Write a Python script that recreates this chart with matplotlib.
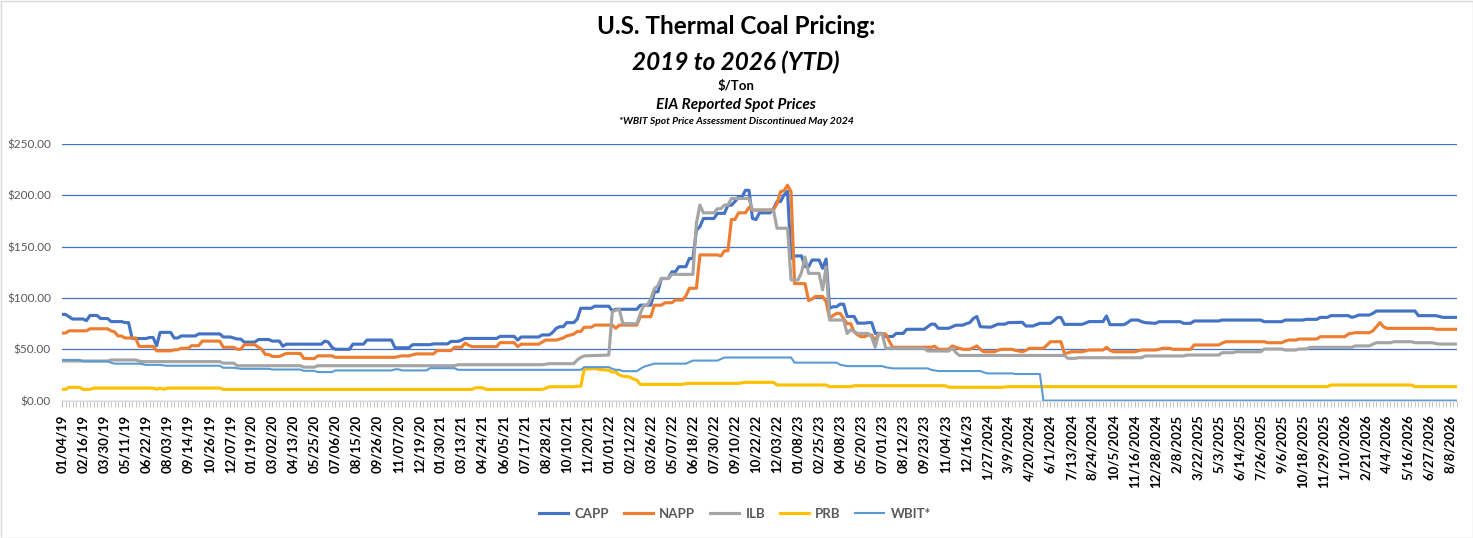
import matplotlib
matplotlib.use("Agg")
import matplotlib.pyplot as plt
from matplotlib.ticker import MultipleLocator, FixedLocator, StrMethodFormatter
from matplotlib.patches import Rectangle

plt.rcParams["font.family"] = ["Lato", "DejaVu Sans"]

# weekly category labels (every 6th week is labelled)
tick_labels = [
    "01/04/19", "02/16/19", "03/30/19", "05/11/19", "06/22/19", "08/03/19",
    "09/14/19", "10/26/19", "12/07/19", "01/19/20", "03/02/20", "04/13/20",
    "05/25/20", "07/06/20", "08/15/20", "09/26/20", "11/07/20", "12/19/20",
    "01/30/21", "03/13/21", "04/24/21", "06/05/21", "07/17/21", "08/28/21",
    "10/10/21", "11/20/21", "01/01/22", "02/12/22", "03/26/22", "05/07/22",
    "06/18/22", "07/30/22", "09/10/22", "10/22/22", "12/03/22", "01/08/23",
    "02/25/23", "04/08/23", "05/20/23", "07/01/23", "08/12/23", "09/23/23",
    "11/04/23", "12/16/23", "1/27/2024", "3/9/2024", "4/20/2024", "6/1/2024",
    "7/13/2024", "8/24/2024", "10/5/2024", "11/16/2024", "12/28/2024",
    "2/8/2025", "3/22/2025", "5/3/2025", "6/14/2025", "7/26/2025", "9/6/2025",
    "10/18/2025", "11/29/2025", "1/10/2026", "2/21/2026", "4/4/2026",
    "5/16/2026", "6/27/2026", "8/8/2026",
]
n_weeks = 399

# (week index, $/ton)
capp = [(0,84),(1,84),(3,79.5),(6,79.5),(7,78),(8,83),(10,83),(11,80),(13,80),(14,77),(17,77),
        (18,76),(19,76),(20,60.5),(24,60.5),(25,61.5),(26,61.5),(27,53.5),(28,66.5),(31,66.5),
        (32,61),(33,61),(34,63),(38,63),(39,65),(45,65),(46,62),(48,62),(50,60),(51,60),(52,57),
        (55,57),(56,59.5),(59,59.5),(60,58),(62,58),(63,53),(64,55),(74,55),(75,58),(76,57),
        (77,52),(78,50),(82,50),(83,55),(86,55),(87,59),(94,59),(95,51.5),(99,51.5),(100,54.5),
        (105,54.5),(106,55.3),(110,55.3),(111,57.7),(113,57.7),(114,59),(115,60.6),(124,60.6),
        (125,62.6),(129,62.6),(130,59),(131,62),(136,62),(137,64),(139,64),(140,66.5),(141,70.5),
        (142,72),(143,72),(144,76),(146,76),(147,79.5),(148,90),(151,90),(152,92),(156,92),
        (157,87.5),(158,89),(164,89),(165,93),(168,93),(169,106),(170,106),(171,119),(173,119),
        (174,125.5),(175,125.5),(176,130.5),(178,130.5),(179,138.5),(180,138.5),(181,166),
        (182,169.5),(183,177.5),(186,177.5),(187,182.5),(189,182.5),(190,190.5),(191,190.5),
        (192,194),(193,198.5),(194,198.5),(195,205),(196,205),(197,177.5),(198,176.5),(199,183),
        (202,183),(203,187),(204,194),(205,194),(206,200.5),(207,204),(208,138.5),(209,141),
        (211,141),(212,130.5),(213,130.5),(214,137),(216,137),(217,129),(218,138),(219,90),
        (220,91.5),(221,91.5),(222,94),(223,94),(224,82),(226,82),(227,75.5),(229,75.5),(230,76),
        (231,76),(232,65.5),(234,65.5),(235,62.5),(237,62.5),(238,65.5),(240,65.5),(241,69.5),
        (246,69.5),(247,72),(248,74.5),(249,74.5),(250,70.5),(253,70.5),(254,72),(255,73.5),
        (257,73.5),(258,75),(259,76),(260,80),(261,82),(262,72),(265,71.5),(266,73),(267,74.5),
        (269,74.5),(270,76),(274,76.3),(275,72.7),(277,72.7),(278,74),(279,75.3),(282,75.3),
        (283,78),(284,81),(285,81),(286,74.3),(291,74.3),(292,75.5),(293,77),(297,77),(298,82.5),
        (299,74),(303,74),(304,76),(305,78.5),(307,78.5),(308,77),(309,76),(312,75.3),(313,76.9),
        (319,76.9),(320,75.3),(322,75.3),(323,77.6),(330,77.6),(331,78.5),(342,78.5),(343,76.9),
        (348,76.9),(349,78.5),(354,78.5),(355,79.2),(358,79.2),(359,81.1),(361,81.1),(362,82.8),
        (367,82.8),(368,81.1),(369,82),(370,83.4),(373,83.4),(374,85),(375,87.3),(386,87.3),
        (387,82.8),(392,82.8),(393,82),(394,81.1),(398,81.1)]

napp = [(0,65.8),(1,65.8),(2,68),(7,68),(8,70),(13,70),(14,68),(15,67),(16,63),(17,63),(18,61),
        (21,61),(22,52.8),(26,52.8),(27,48.5),(31,48.5),(32,49.5),(33,49.5),(34,51),(36,51),
        (37,53.5),(39,53.5),(40,58),(45,58),(46,52),(49,52),(50,50),(51,50),(52,54.5),(55,54.5),
        (56,52),(57,50),(58,45),(59,45),(60,43),(62,43),(63,44.5),(64,46),(68,46),(69,41),(72,41),
        (73,43.6),(77,43.6),(78,42.2),(95,42.2),(96,43),(97,43.6),(99,43.6),(100,44.5),(101,45.5),
        (106,45.5),(107,48.8),(111,48.8),(112,52),(114,52),(115,56),(116,54),(117,52.6),(124,52.6),
        (125,56.5),(129,56.5),(130,52.6),(131,55),(136,55),(137,57),(138,59),(141,59),(142,60),
        (143,61),(144,63),(146,64.8),(147,67.4),(148,67.4),(149,71.5),(151,71.5),(152,73.6),
        (157,73.6),(158,70.5),(159,73.6),(164,73.6),(165,81.8),(168,81.8),(169,93),(171,93),
        (172,95.4),(174,95.4),(175,98),(177,98),(178,102),(179,109.5),(181,109.5),(182,142),
        (187,142),(188,141),(189,146),(190,146),(191,176.5),(192,176.5),(193,183),(195,183),
        (196,188.3),(197,185.7),(203,185.7),(204,192),(205,203.6),(206,204.6),(207,210),
        (208,203.6),(209,114),(212,114),(213,97.5),(214,99),(215,101.5),(217,101.5),(218,96.4),
        (219,80),(220,83),(221,85),(222,85),(223,80),(224,75),(225,75),(226,67),(227,64),
        (228,62.3),(229,62.3),(230,63.9),(231,63.9),(232,58.4),(233,65),(235,65),(236,58),
        (237,52),(248,52),(249,53),(250,50),(253,50),(254,53.3),(255,52),(256,51),(257,50),
        (259,50),(260,51.5),(261,53.3),(262,50),(263,47.6),(266,47.6),(267,49),(268,50),(271,50),
        (272,49),(274,47.6),(275,49),(276,51),(280,51),(281,54),(282,57.4),(285,57.4),(286,46),
        (287,46.5),(288,47.6),(291,47.6),(292,48.5),(293,49.3),(297,49.3),(298,51.9),(299,49),
        (300,47.6),(306,47.6),(307,48.5),(308,49.3),(312,49.3),(313,50),(314,51),(316,51),
        (317,50),(322,50),(323,54.2),(330,54.2),(331,56),(332,57.4),(343,57.4),(344,56.4),
        (348,56.4),(349,58),(350,59),(352,59),(353,60),(358,60),(359,62.3),(366,62.3),(367,64.9),
        (368,65.5),(369,66.2),(373,66.2),(374,68),(376,76),(377,72),(378,70.4),(391,70.4),
        (392,69.5),(398,69.5)]

ilb = [(0,38.6),(13,38.6),(14,39.6),(21,39.6),(22,38.5),(23,38),(45,38),(46,36.5),(49,36.5),
       (50,34),(68,34),(69,32.6),(72,32.6),(73,34),(112,34),(113,35),(137,35),(138,35.5),
       (139,36),(146,36),(147,39.6),(148,42),(149,43.6),(156,44.4),(157,86.6),(158,88),(159,89),
       (160,75),(164,75),(165,85),(166,93),(167,93),(168,99.5),(169,109),(170,112),(171,119),
       (173,119),(174,123),(180,123),(181,173),(182,190.6),(183,183),(186,183),(187,187),
       (188,187),(189,190.6),(190,190.6),(191,197),(196,197),(197,185.7),(203,185.7),(204,168),
       (207,168),(208,117.6),(210,117.6),(211,125),(212,140),(213,124),(216,124),(217,107.8),
       (218,130.5),(219,78.5),(223,78.5),(224,65.4),(225,69),(227,65.5),(230,65.5),(231,62),
       (232,52),(233,65),(234,65),(235,51),(246,51),(247,48.3),(253,48.3),(254,51),(255,47),
       (256,44),(286,44),(287,41.2),(289,41.2),(290,41.8),(308,41.8),(309,43.5),(320,43.5),
       (321,44.4),(330,44.4),(331,46.7),(334,46.7),(335,47.6),(342,47.6),(343,50.3),(348,50.3),
       (349,49.3),(352,49.3),(353,50.3),(355,50.3),(356,51.9),(368,51.9),(369,53.3),(373,53.3),
       (374,55),(375,56.4),(379,56.4),(380,57.4),(385,57.4),(386,56.4),(391,56.4),(392,55.5),
       (393,55.1),(398,55.1)]

prb = [(0,10.9),(1,10.9),(2,12.9),(5,12.9),(6,10.9),(8,10.9),(9,12.2),(26,12.2),(27,11),
       (28,12.2),(29,11),(30,12.2),(45,12.2),(46,10.9),(117,10.9),(118,12.5),(120,12.5),
       (121,10.9),(137,10.9),(138,12),(139,13.5),(146,13.5),(147,14),(148,14),(149,30.5),
       (152,31.3),(153,30.5),(156,29.5),(157,27.8),(158,27.8),(159,25),(160,23.8),(162,23),
       (163,21),(164,20),(165,15.8),(177,15.8),(178,16.5),(179,16.8),(193,16.8),(194,17.3),
       (195,17.8),(203,17.8),(204,15.2),(218,15.2),(219,13.6),(225,13.6),(226,14.5),(252,14.5),
       (253,13),(268,12.9),(270,13.6),(361,13.6),(362,15.2),(385,15.2),(386,13.6),(398,13.6)]

wbit = [(0,39.6),(5,39.6),(6,38.3),(13,38.3),(14,37),(15,36),(22,36),(23,35.5),(24,34.8),
        (28,34.8),(29,34.3),(30,34),(45,34),(46,32),(49,32),(50,31.5),(51,31),(59,31),(60,30.3),
        (68,30.3),(69,29),(72,29),(73,27.8),(77,27.8),(78,29.4),(94,29.4),(95,30.5),(96,30.5),
        (97,29.4),(104,29.4),(105,31.6),(112,31.6),(113,30),(148,30),(149,32.6),(156,32.6),
        (157,31),(158,30),(159,30),(160,28.7),(164,28.7),(165,31),(166,33),(168,35),(169,36),
        (178,36),(179,37.5),(180,39),(187,39),(188,40.5),(189,42),(208,42),(209,37),(221,37),
        (222,35),(224,33.6),(234,33.6),(235,32.5),(237,31.4),(247,31.4),(248,30),(250,28.8),
        (262,28.8),(263,27.5),(264,26.5),(271,26.5),(272,25.9),(279,25.9),(280,0),(398,0)]

series = [
    ("CAPP", capp, "#4472C4", 2.25),
    ("NAPP", napp, "#ED7D31", 2.25),
    ("ILB", ilb, "#A5A5A5", 2.25),
    ("PRB", prb, "#FFC000", 2.25),
    ("WBIT*", wbit, "#5B9BD5", 1.5),
]

fig = plt.figure(figsize=(14.73, 5.38), dpi=100)
ax = fig.add_axes([62 / 1473, 137.4 / 538, 1395 / 1473, 256.5 / 538])

for name, pts, color, lw in series:
    wk, val = zip(*pts)
    ax.plot(wk, val, color=color, lw=lw, label=name, solid_joinstyle="round")

ax.set_xlim(0, n_weeks - 1)
ax.set_ylim(0, 250)
ax.yaxis.set_major_locator(MultipleLocator(50))
ax.yaxis.set_major_formatter(StrMethodFormatter("${x:,.2f}"))
ax.grid(axis="y", color="#4472C4", lw=0.9)
ax.set_axisbelow(True)

ax.xaxis.set_major_locator(FixedLocator(range(0, 6 * len(tick_labels), 6)))
ax.set_xticklabels(tick_labels, rotation=90, fontweight="bold", fontsize=9.5)
ax.xaxis.set_minor_locator(MultipleLocator(1))
ax.tick_params(axis="x", which="both", length=4, color="#BFBFBF", pad=6)
ax.tick_params(axis="y", length=0, labelsize=8.5, labelcolor="#595959", pad=8)

for s in ["top", "right", "left"]:
    ax.spines[s].set_visible(False)
ax.spines["bottom"].set_color("#D9D9D9")

cx = 736 / 1473
fig.text(cx, 1 - 27 / 538, "U.S. Thermal Coal Pricing:", ha="center", va="center",
         fontsize=17.5, fontweight="bold")
fig.text(cx, 1 - 62 / 538, "2019 to 2026 (YTD)", ha="center", va="center",
         fontsize=17.5, fontweight="bold", style="italic")
fig.text(cx, 1 - 86 / 538, "$/Ton", ha="center", va="center", fontsize=9.5, fontweight="bold")
fig.text(cx, 1 - 105 / 538, "EIA Reported Spot Prices", ha="center", va="center",
         fontsize=11, fontweight="bold", style="italic")
fig.text(cx, 1 - 121 / 538, "*WBIT Spot Price Assessment Discontinued May 2024", ha="center",
         va="center", fontsize=7.4, fontweight="bold", style="italic")

leg = fig.legend(loc="center", bbox_to_anchor=(735 / 1473, 1 - 514 / 538), ncol=5,
                 frameon=False, handlelength=2.2, columnspacing=1.1, handletextpad=0.5,
                 prop={"size": 9.5, "weight": "bold"})
for t in leg.get_texts():
    t.set_color("#595959")

fig.patches.append(Rectangle((0.5 / 1473, 0.5 / 538), 1 - 1 / 1473, 1 - 1 / 538,
                             transform=fig.transFigure, fill=False, edgecolor="#D9D9D9", lw=1))

fig.savefig("out.png", dpi=100)
